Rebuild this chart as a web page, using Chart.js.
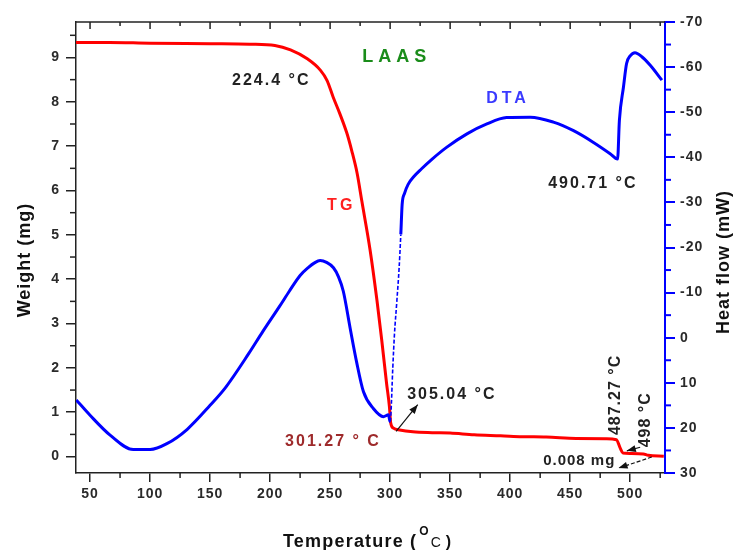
<!DOCTYPE html>
<html><head><meta charset="utf-8">
<script src="https://cdn.jsdelivr.net/npm/chart.js@4/dist/chart.umd.min.js"></script>
<style>html,body{margin:0;padding:0;background:#fff}#wrap{width:736px;height:550px}</style>
</head><body><div id="wrap"><canvas id="c" width="736" height="550"></canvas></div>
<script>
// TG (weight, mg) vs temperature
const tgTemp = [38, 66, 100, 150, 183, 204, 217, 231, 242, 247.5, 252.5, 258, 264, 268, 272.5, 276.5, 283.3, 289, 293, 297, 299.4, 300.5, 302.8, 308, 319, 335, 350, 370, 392, 410, 430, 455, 480, 488.5, 491.7, 494, 500, 511, 515, 528];
const tgWeight = [9.34, 9.34, 9.32, 9.31, 9.30, 9.27, 9.17, 8.97, 8.71, 8.48, 8.11, 7.74, 7.29, 6.90, 6.39, 5.75, 4.66, 3.53, 2.63, 1.66, 1.13, 0.76, 0.64, 0.60, 0.56, 0.54, 0.53, 0.49, 0.47, 0.45, 0.44, 0.41, 0.40, 0.38, 0.19, 0.08, 0.07, 0.06, 0.03, 0.01];
// DTA (heat flow, mW) vs temperature
const dtaTemp = [38.5, 50, 66.7, 86, 100, 114, 131, 150, 163, 182, 194, 208, 216, 225, 232, 237, 241.7, 247, 252.8, 257, 261, 266.7, 272, 277.8, 286, 294.4, 298.6, 300, 300.6, 302.2, 303.6, 305.6, 307.5, 308.9, 310, 312, 315, 320, 326, 335, 347, 364, 380.6, 397, 416.7, 436, 452.8, 469.4, 483.3, 489.5, 491, 494.4, 497, 500, 504, 509.7, 516.7, 526.4];
const dtaHeat = [13.8, 17.2, 21.6, 24.8, 24.8, 23.5, 20.3, 15.0, 11.0, 3.6, -1.4, -7.0, -10.3, -13.8, -15.6, -16.6, -17.1, -16.7, -15.5, -13.5, -10.3, -2.1, 5.3, 12.0, 15.7, 17.5, 17.1, 18.6, 17.2, 6.8, -0.7, -8.1, -15.5, -22.9, -29.5, -32.0, -34.0, -35.8, -37.4, -39.6, -42.2, -45.2, -47.4, -48.8, -48.9, -47.8, -45.9, -43.3, -40.8, -39.6, -48.2, -55.6, -60.8, -62.5, -63.2, -62.3, -60.4, -57.1];
// tick labels
const tempTicks = [50, 100, 150, 200, 250, 300, 350, 400, 450, 500];
const weightTicks = [0, 1, 2, 3, 4, 5, 6, 7, 8, 9];
const heatTicks = [-70, -60, -50, -40, -30, -20, -10, 0, 10, 20, 30];
// annotations (text, anchor temperature, anchor weight)
const notes = [
  {t: 'LAAS', x: 276.7, y: 9.0, color: '#1a8c1a', size: 18, sp: 5},
  {t: '224.4 °C', x: 168.3, y: 8.48, color: '#222', size: 16, sp: 2},
  {t: 'DTA', x: 380, y: 8.08, color: '#3a3aff', size: 16, sp: 4},
  {t: '490.71 °C', x: 431.7, y: 6.16, color: '#222', size: 16, sp: 2},
  {t: 'TG', x: 247.5, y: 5.67, color: '#ff2020', size: 16, sp: 3},
  {t: '305.04 °C', x: 314.2, y: 1.39, color: '#222', size: 16, sp: 2},
  {t: '301.27 ° C', x: 212.5, y: 0.33, color: '#9e2a2b', size: 16, sp: 2},
  {t: '0.008 mg', x: 427.5, y: -0.10, color: '#222', size: 15, sp: 1}
];
const vnotes = [
  {t: '487.27 °C', x: 487.5, y: 1.39},
  {t: '498 °C', x: 512.5, y: 0.83}
];
const arrows = [
  {x1: 305, y1: 0.57, x2: 323, y2: 1.17, dash: []},
  {x1: 508.3, y1: 0.21, x2: 497.2, y2: 0.13, dash: []},
  {x1: 518, y1: -0.01, x2: 490.3, y2: -0.26, dash: [4, 2]}
];

const FONT = "'Liberation Sans', Arial, sans-serif";

function pts(xs, ys) { return xs.map((x, i) => ({x: x, y: ys[i]})); }

const extras = {
  id: 'extras',
  beforeDraw(chart) { chart.ctx.letterSpacing = '1px'; },
  afterDraw(chart) {
    const ctx = chart.ctx, a = chart.chartArea;
    const sx = chart.scales.x, sy = chart.scales.y, sr = chart.scales.yR;
    ctx.save();
    // top border with inward ticks
    ctx.strokeStyle = '#222'; ctx.lineWidth = 1.5;
    ctx.beginPath(); ctx.moveTo(a.left, a.top); ctx.lineTo(a.right, a.top); ctx.stroke();
    for (let v = 50; v <= 525; v += 25) {
      const px = sx.getPixelForValue(v);
      const major = v % 50 === 0;
      ctx.beginPath(); ctx.moveTo(px, a.top); ctx.lineTo(px, a.top + (major ? 7 : 4)); ctx.stroke();
      if (!major) { ctx.beginPath(); ctx.moveTo(px, a.bottom); ctx.lineTo(px, a.bottom + 5); ctx.stroke(); }
    }
    for (let v = 0.5; v <= 9.5; v += 1) {
      const py = sy.getPixelForValue(v);
      ctx.beginPath(); ctx.moveTo(a.left, py); ctx.lineTo(a.left - 6, py); ctx.stroke();
    }
    ctx.strokeStyle = '#0000ff'; ctx.lineWidth = 2;
    for (let v = -65; v <= 25; v += 10) {
      const py = sr.getPixelForValue(v);
      ctx.beginPath(); ctx.moveTo(a.right, py); ctx.lineTo(a.right + 6, py); ctx.stroke();
    }
    // annotations
    ctx.textBaseline = 'middle'; ctx.textAlign = 'left';
    notes.forEach(n => {
      ctx.font = 'bold ' + n.size + 'px ' + FONT;
      ctx.letterSpacing = n.sp + 'px';
      ctx.fillStyle = n.color;
      ctx.fillText(n.t, sx.getPixelForValue(n.x), sy.getPixelForValue(n.y));
    });
    vnotes.forEach(n => {
      ctx.save();
      ctx.translate(sx.getPixelForValue(n.x), sy.getPixelForValue(n.y));
      ctx.rotate(-Math.PI / 2);
      ctx.font = "bold 16px 'Liberation Sans Narrow', " + FONT;
      ctx.letterSpacing = '1px';
      ctx.fillStyle = '#222'; ctx.textAlign = 'center';
      ctx.fillText(n.t, 0, 0);
      ctx.restore();
    });
    arrows.forEach(r => {
      const x1 = sx.getPixelForValue(r.x1), y1 = sy.getPixelForValue(r.y1);
      const x2 = sx.getPixelForValue(r.x2), y2 = sy.getPixelForValue(r.y2);
      ctx.strokeStyle = '#111'; ctx.fillStyle = '#111'; ctx.lineWidth = 1.2;
      ctx.setLineDash(r.dash);
      ctx.beginPath(); ctx.moveTo(x1, y1); ctx.lineTo(x2, y2); ctx.stroke();
      ctx.setLineDash([]);
      const ang = Math.atan2(y2 - y1, x2 - x1), L = 9, W = 3.5;
      ctx.beginPath();
      ctx.moveTo(x2, y2);
      ctx.lineTo(x2 - L * Math.cos(ang) + W * Math.sin(ang), y2 - L * Math.sin(ang) - W * Math.cos(ang));
      ctx.lineTo(x2 - L * Math.cos(ang) - W * Math.sin(ang), y2 - L * Math.sin(ang) + W * Math.cos(ang));
      ctx.closePath(); ctx.fill();
    });
    // axis titles
    ctx.fillStyle = '#111';
    ctx.font = 'bold 18px ' + FONT; ctx.letterSpacing = '1px';
    ctx.textAlign = 'center'; ctx.textBaseline = 'middle';
    ctx.save(); ctx.translate(25, 260); ctx.rotate(-Math.PI / 2); ctx.fillText('Weight (mg)', 0, 0); ctx.restore();
    ctx.save(); ctx.translate(724, 262); ctx.rotate(-Math.PI / 2); ctx.fillText('Heat flow (mW)', 0, 0); ctx.restore();
    // x title with superscript O
    ctx.textAlign = 'left'; ctx.textBaseline = 'alphabetic';
    let x = 283; const base = 547;
    ctx.font = 'bold 18px ' + FONT; ctx.letterSpacing = '1.2px';
    ctx.fillText('Temperature (', x, base); x += ctx.measureText('Temperature (').width + 2;
    ctx.font = 'bold 12px ' + FONT; ctx.letterSpacing = '0px';
    ctx.fillText('O', x, base - 12); x += ctx.measureText('O').width + 2;
    ctx.font = '14px ' + FONT; ctx.letterSpacing = '0px';
    ctx.fillText('C', x, base); x += ctx.measureText('C').width + 5;
    ctx.font = 'bold 16px ' + FONT;
    ctx.fillText(')', x, base);
    ctx.restore();
  }
};

const isDashed = c => c.p0.parsed.x >= 300 && c.p1.parsed.x <= 308.9;
const tickFont = {family: FONT, size: 14, weight: 'bold'};
new Chart(document.getElementById('c'), {
  type: 'line',
  data: {
    datasets: [
      {label: 'TG', data: pts(tgTemp, tgWeight), yAxisID: 'y', borderColor: '#ff0000', borderWidth: 3,
       pointRadius: 0, cubicInterpolationMode: 'monotone', order: 1},
      {label: 'DTA', data: pts(dtaTemp, dtaHeat), yAxisID: 'yR', borderColor: '#0000ff', borderWidth: 3,
       pointRadius: 0, cubicInterpolationMode: 'monotone', order: 0,
       segment: {
         borderDash: c => isDashed(c) ? [4, 2] : undefined,
         borderWidth: c => isDashed(c) ? 1.6 : undefined
       }}
    ]
  },
  options: {
    responsive: false, animation: false, devicePixelRatio: 1,
    layout: {padding: {top: 22, left: 0, right: 0, bottom: 0}},
    plugins: {legend: {display: false}, tooltip: {enabled: false}},
    scales: {
      x: {type: 'linear', position: 'bottom', min: 38.3, max: 529,
        afterBuildTicks: s => { s.ticks = tempTicks.map(v => ({value: v})); },
        afterFit: s => { s.height = 77; },
        grid: {drawOnChartArea: false, tickLength: 9, color: '#222', lineWidth: 1.5},
        border: {display: true, color: '#222', width: 1.5},
        ticks: {font: tickFont, color: '#2a2a2a', padding: 4, maxRotation: 0, autoSkip: false}},
      y: {type: 'linear', position: 'left', min: -0.37, max: 9.8,
        afterBuildTicks: s => { s.ticks = weightTicks.map(v => ({value: v})); },
        afterFit: s => { s.width = 76; },
        grid: {drawOnChartArea: false, tickLength: 10, color: '#222', lineWidth: 1.5},
        border: {display: true, color: '#222', width: 1.5},
        ticks: {font: tickFont, color: '#2a2a2a', padding: 6, autoSkip: false}},
      yR: {type: 'linear', position: 'right', min: -70, max: 30, reverse: true,
        afterBuildTicks: s => { s.ticks = heatTicks.map(v => ({value: v})); },
        afterFit: s => { s.width = 71; },
        grid: {drawOnChartArea: false, tickLength: 10, color: '#0000ff', lineWidth: 2},
        border: {display: true, color: '#0000ff', width: 2},
        ticks: {font: tickFont, color: '#2a2a2a', padding: 5, autoSkip: false}}
    }
  },
  plugins: [extras]
});
</script></body></html>
